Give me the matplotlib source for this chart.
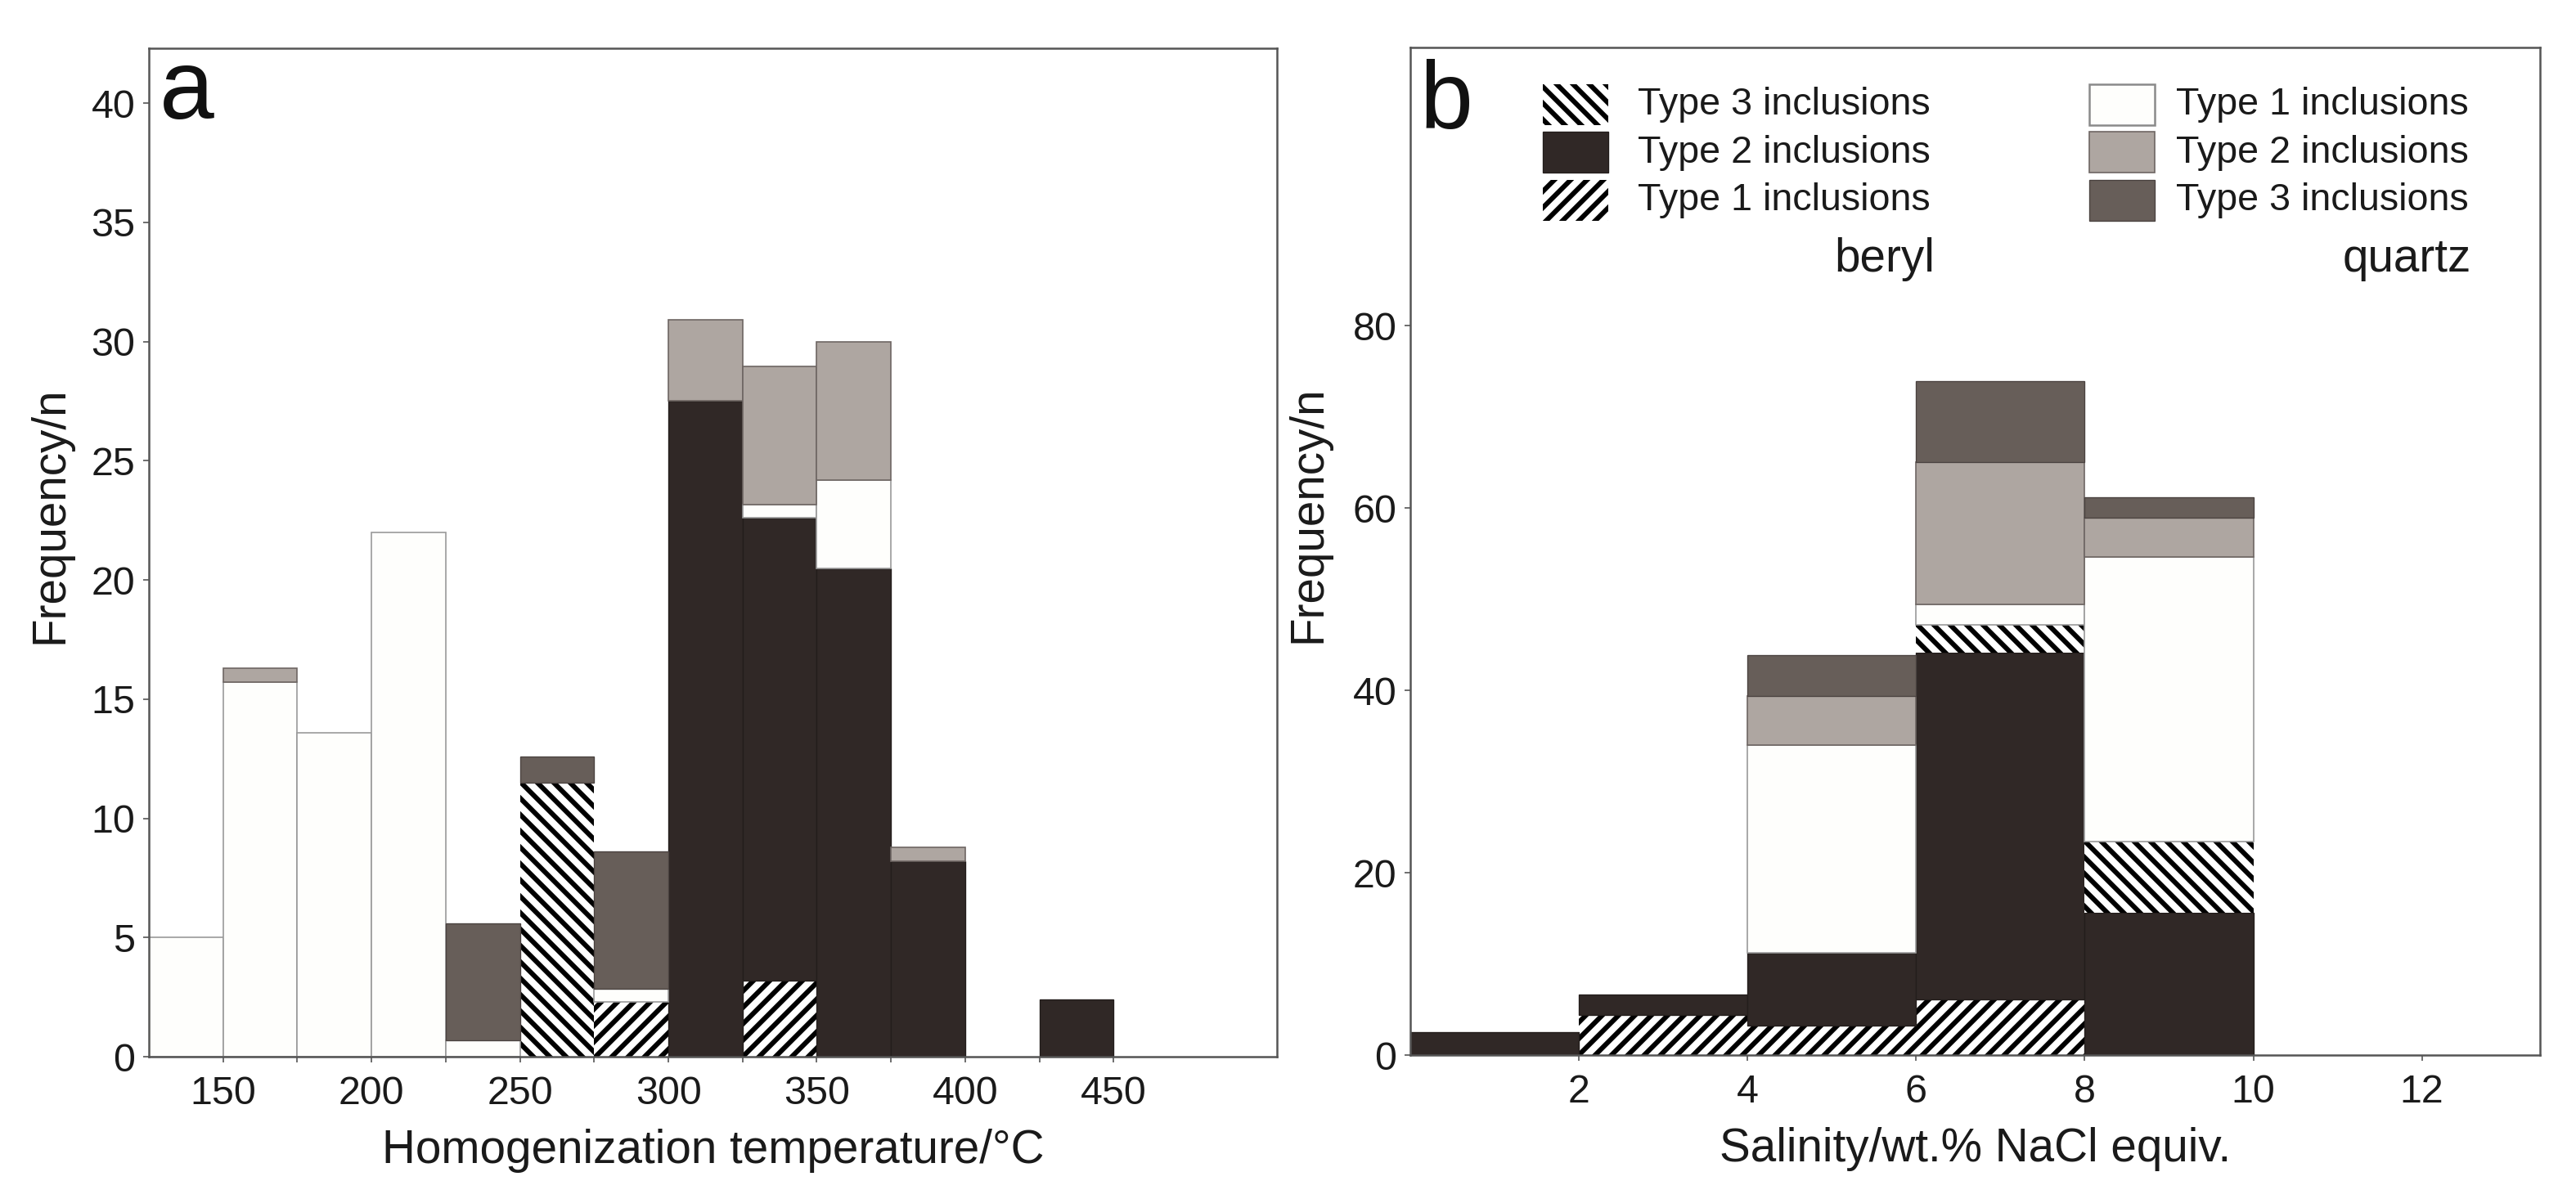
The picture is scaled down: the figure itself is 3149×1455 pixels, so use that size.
import matplotlib
matplotlib.use('Agg')
import numpy as np
import matplotlib.pyplot as plt
from matplotlib.patches import Rectangle

plt.rcParams['font.family'] = ['Liberation Sans', 'DejaVu Sans']
plt.rcParams['hatch.linewidth'] = 3.6
plt.rcParams['hatch.color'] = 'black'

# ---- panel a: homogenization temperature, bins of 25 C (left edges) ----
temp_bins = [125, 150, 175, 200, 225, 250, 275, 300, 325, 350, 375, 400, 425]
a_beryl1 = [0, 0, 0, 0, 0, 0, 2.3, 0, 3.2, 0, 0, 0, 0]
a_beryl2 = [0, 0, 0, 0, 0, 0, 0, 27.5, 19.4, 20.5, 8.2, 0, 2.4]
a_beryl3 = [0, 0, 0, 0, 0, 11.5, 0, 0, 0, 0, 0, 0, 0]
a_quartz1 = [5.0, 15.7, 13.6, 22.0, 0.7, 0, 0.55, 0, 0.55, 3.7, 0, 0, 0]
a_quartz2 = [0, 0.6, 0, 0, 0, 0, 0, 3.4, 5.8, 5.8, 0.6, 0, 0]
a_quartz3 = [0, 0, 0, 0, 4.9, 1.1, 5.75, 0, 0, 0, 0, 0, 0]

# ---- panel b: salinity, bins of 2 wt.% (left edges) ----
sal_bins = [0, 2, 4, 6, 8]
b_beryl1 = [0, 4.4, 3.2, 6.1, 0]
b_beryl2 = [2.5, 2.2, 8.0, 38.0, 15.6]
b_beryl3 = [0, 0, 0, 3.1, 7.8]
b_quartz1 = [0, 0, 22.8, 2.2, 31.2]
b_quartz2 = [0, 0, 5.4, 15.6, 4.3]
b_quartz3 = [0, 0, 4.5, 8.9, 2.3]

DARK = '#302826'
LIGHT = '#aea6a1'
MID = '#675e59'
WHITE = '#fefefc'

styles = {
    'beryl1': dict(facecolor='white', edgecolor='black', hatch='//', linewidth=0),
    'beryl2': dict(facecolor=DARK, edgecolor='#231d1b', linewidth=0.8),
    'beryl3': dict(facecolor='white', edgecolor='black', hatch='\\\\', linewidth=0),
    'quartz1': dict(facecolor=WHITE, edgecolor='#9a9a9a', linewidth=1.0),
    'quartz2': dict(facecolor=LIGHT, edgecolor='#6e6663', linewidth=1.0),
    'quartz3': dict(facecolor=MID, edgecolor='#4a4240', linewidth=0.8),
}


def stacked(ax, bins, width, series):
    bottom = np.zeros(len(bins))
    left = np.array(bins, dtype=float)
    for key, vals in series:
        vals = np.array(vals, dtype=float)
        m = vals > 0
        ax.bar(left[m], vals[m], width=width, bottom=bottom[m], align='edge',
               **styles[key])
        bottom += vals


def style_axes(ax):
    for sp in ax.spines.values():
        sp.set_color('#555555')
        sp.set_linewidth(1.5)
    ax.tick_params(direction='out', length=4, width=1, color='#555555',
                   labelsize=29, labelcolor='#1a1a1a')
    ax.tick_params(axis='x', pad=10)
    ax.tick_params(axis='y', pad=6)


fig = plt.figure(figsize=(3149 / 120, 1455 / 120), dpi=120)
ax_a = fig.add_axes([0.0578, 0.1120, 0.4379, 0.8474])
ax_b = fig.add_axes([0.5475, 0.1134, 0.4385, 0.8467])

# panel a
stacked(ax_a, temp_bins, 25, [('beryl1', a_beryl1), ('beryl2', a_beryl2),
                              ('beryl3', a_beryl3), ('quartz1', a_quartz1),
                              ('quartz2', a_quartz2), ('quartz3', a_quartz3)])
ax_a.set_xlim(125, 505)
ax_a.set_ylim(0, 42.3)
xt = np.arange(150, 451, 25)
ax_a.set_xticks(xt)
ax_a.set_xticklabels([str(t) if t % 50 == 0 else '' for t in xt])
ax_a.set_yticks(np.arange(0, 41, 5))
style_axes(ax_a)
ax_a.set_xlabel('Homogenization temperature/°C', fontsize=34, labelpad=12,
                color='#1a1a1a')
ax_a.set_ylabel('Frequency/n', fontsize=34, color='#1a1a1a')
ax_a.yaxis.set_label_coords(-0.068, 0.537)
ax_a.text(0.009, 0.930, 'a', transform=ax_a.transAxes, fontsize=72,
          ha='left', va='baseline', color='#111111')

# panel b
stacked(ax_b, sal_bins, 2, [('beryl1', b_beryl1), ('beryl2', b_beryl2),
                            ('beryl3', b_beryl3), ('quartz1', b_quartz1),
                            ('quartz2', b_quartz2), ('quartz3', b_quartz3)])
ax_b.set_xlim(0, 13.4)
ax_b.set_ylim(0, 110.5)
ax_b.set_xticks([2, 4, 6, 8, 10, 12])
ax_b.set_yticks([0, 20, 40, 60, 80])
style_axes(ax_b)
ax_b.set_xlabel('Salinity/wt.% NaCl equiv.', fontsize=34, labelpad=12,
                color='#1a1a1a')
ax_b.set_ylabel('Frequency/n', fontsize=34, color='#1a1a1a')
ax_b.yaxis.set_label_coords(-0.071, 0.5365)
ax_b.text(0.008, 0.9196, 'b', transform=ax_b.transAxes, fontsize=70,
          ha='left', va='baseline', color='#111111')

# legend drawn by hand, two columns
beryl_rows = [('beryl3', 'Type 3 inclusions'), ('beryl2', 'Type 2 inclusions'),
              ('beryl1', 'Type 1 inclusions')]
quartz_rows = [('quartz1', 'Type 1 inclusions'), ('quartz2', 'Type 2 inclusions'),
               ('quartz3', 'Type 3 inclusions')]
row_bottoms = [0.9229, 0.8758, 0.8279]
row_centers = [0.9432, 0.8957, 0.8482]
for rows, px, tx in [(beryl_rows, 0.1173, 0.2013), (quartz_rows, 0.601, 0.6778)]:
    for (key, label), yb, yc in zip(rows, row_bottoms, row_centers):
        st = dict(styles[key])
        if key == 'quartz1':
            st['edgecolor'] = '#8a8a8a'
            st['linewidth'] = 1.5
        ax_b.add_patch(Rectangle((px, yb), 0.058, 0.0406,
                                 transform=ax_b.transAxes, **st))
        ax_b.text(tx, yc, label, transform=ax_b.transAxes, fontsize=28,
                  ha='left', va='center', color='#1a1a1a')
ax_b.text(0.4642, 0.7898, 'beryl', transform=ax_b.transAxes, fontsize=34,
          ha='right', va='center', color='#1a1a1a')
ax_b.text(0.9392, 0.7898, 'quartz', transform=ax_b.transAxes, fontsize=34,
          ha='right', va='center', color='#1a1a1a')

fig.savefig('out.png', dpi=120, facecolor='white')
